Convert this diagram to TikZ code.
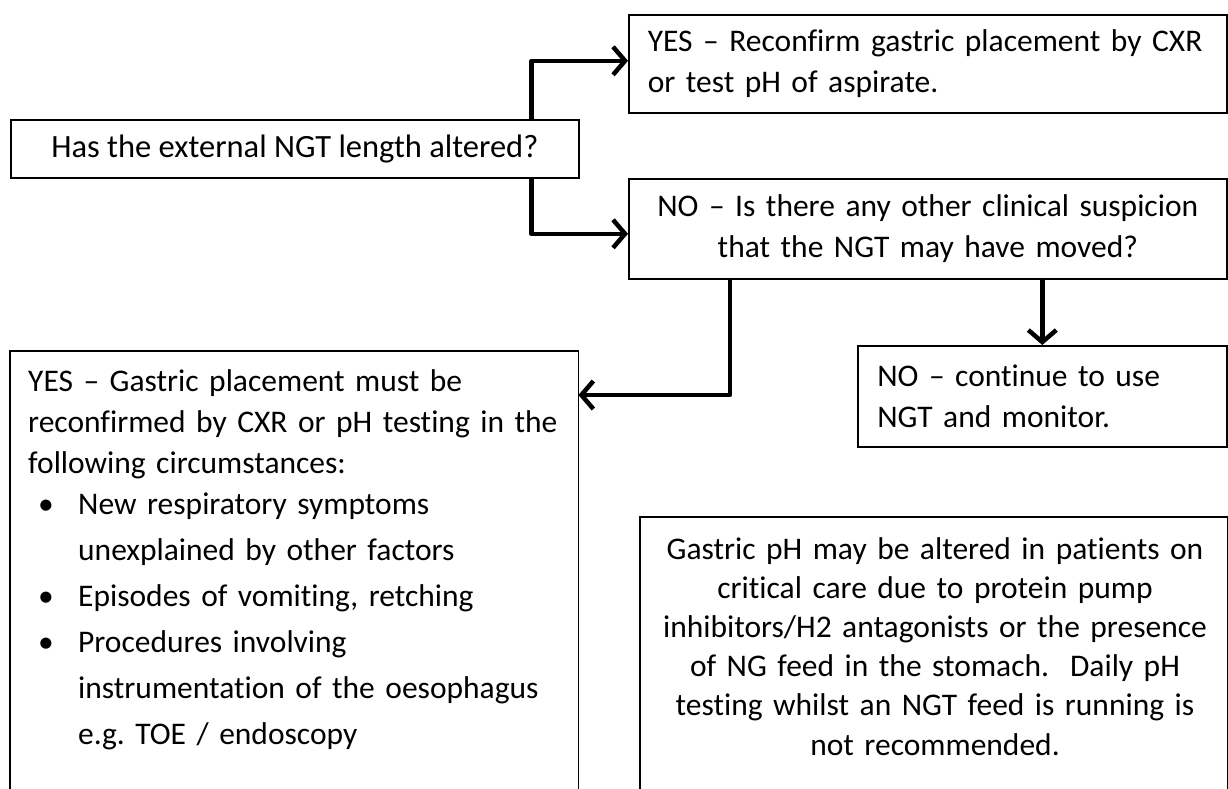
\documentclass[tikz,border=0pt]{standalone}
\usepackage{fontspec}
\setmainfont{Carlito}[Ligatures={TeX,NoCommon}]
\usetikzlibrary{arrows.meta}
\frenchspacing
\tikzset{
  box/.style={draw=black, line width=1.6pt, inner ysep=0pt, font=\fontsize{31.5}{41}\selectfont},
  frame/.style={draw=black, line width=1.6pt},
  txt/.style={inner sep=0pt, font=\fontsize{31.5}{41}\selectfont},
  arr/.style={line width=4.5pt, line join=round, -{Straight Barb[length=12pt,width=28pt,line width=4.5pt]}}
}
\begin{document}
\begin{tikzpicture}[x=1pt,y=-1pt]
\useasboundingbox[fill=white] (0,0) rectangle (1228,789);
% boxes
\node[box, anchor=north west, minimum width=568pt, minimum height=58pt, align=center, font=\fontsize{32.5}{41}\selectfont] (a) at (10,119) {Has the external NGT length altered?};
\node[box, anchor=north west, minimum width=598pt, minimum height=98pt, text width=560pt, inner xsep=19pt, align=left] (b) at (628,14) {YES – Reconfirm gastric placement by CXR\\or test pH of aspirate.};
\node[box, anchor=north west, minimum width=598pt, minimum height=100pt, text width=560pt, inner xsep=19pt, align=center] (c) at (628,178) {NO – Is there any other clinical suspicion\\that the NGT may have moved?};
\node[box, anchor=north west, minimum width=369pt, minimum height=101pt, text width=330pt, inner xsep=19pt, align=left] (e) at (857,345) {NO – continue to use\\NGT and monitor.};
% box D (open at bottom)
\node[txt, anchor=north west, minimum width=568pt, minimum height=438pt] (d) at (10,351) {};
\draw[frame] (d.south west) -- (d.north west) -- (d.north east) -- (d.south east);
\node[txt, anchor=north west, text width=545pt, align=left] (dt) at (28,369) {YES – Gastric placement must be\\reconfirmed by CXR or pH testing in the\\following circumstances:\\
\hspace*{10pt}\makebox[40pt][l]{•}New respiratory symptoms\\[5pt]
\hspace*{50pt}unexplained by other factors\\[5pt]
\hspace*{10pt}\makebox[40pt][l]{•}Episodes of vomiting, retching\\[5pt]
\hspace*{10pt}\makebox[40pt][l]{•}Procedures involving\\[5pt]
\hspace*{50pt}instrumentation of the oesophagus\\[5pt]
\hspace*{50pt}e.g. TOE / endoscopy};
% box F (open at bottom)
\node[txt, anchor=north west, minimum width=587pt, minimum height=272pt] (f) at (640,517) {};
\draw[frame] (f.south west) -- (f.north west) -- (f.north east) -- (f.south east);
\node[txt, anchor=north, text width=580pt, align=center, font=\fontsize{31.5}{39.2}\selectfont] (ft) at (935,537) {Gastric pH may be altered in patients on\\critical care due to protein pump\\inhibitors/H2 antagonists or the presence\\of NG feed in the stomach.\ \ Daily pH\\testing whilst an NGT feed is running is\\not recommended.};
% connectors
\draw[arr] ([xshift=-48pt]a.north east) |- ([yshift=3pt]b.west);
\draw[arr] ([xshift=-48pt]a.south east) |- ([yshift=-5pt]c.west);
\draw[arr] ([xshift=102pt]c.south west) |- ([yshift=-44pt]d.north east);
\draw[arr] (e.north |- c.south) -- (e.north);
\end{tikzpicture}
\end{document}
